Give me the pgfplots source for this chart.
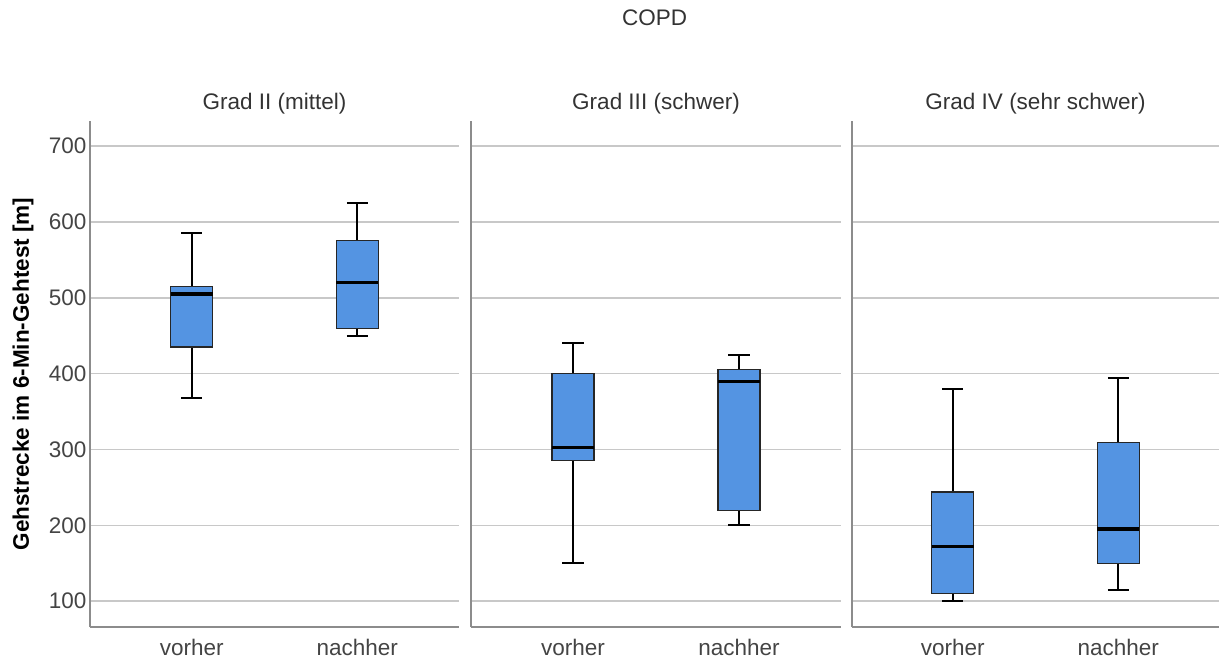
\documentclass[border=0pt]{standalone}
\usepackage{fontspec}
\setmainfont{Liberation Sans}
\usepackage{pgfplots}
\pgfplotsset{compat=1.18}

\definecolor{boxblue}{HTML}{5494E2}
\definecolor{gridgray}{HTML}{C8C8C8}
\definecolor{axisgray}{HTML}{8C8C8C}
\definecolor{ticktext}{HTML}{444444}
\definecolor{titletext}{HTML}{333333}

\newcommand{\chartfont}{\fontsize{22.5bp}{27bp}\selectfont}

% one box: #1 centre, #2/#3 box edges, #4/#5 cap ends,
% #6 lower whisker, #7 lower quartile, #8 median, #9 upper quartile, next arg upper whisker
\newcommand{\gbox}[9]{\def\gboxA{#1}\def\gboxB{#2}\def\gboxC{#3}\def\gboxD{#4}%
  \def\gboxE{#5}\def\gboxF{#6}\def\gboxG{#7}\def\gboxH{#8}\def\gboxI{#9}\gboxfinish}
\newcommand{\gboxfinish}[1]{%
  \addplot[draw=black, line width=1.8bp] coordinates {(\gboxA,\gboxF) (\gboxA,#1)};
  \addplot[draw=black, line width=1.8bp, unbounded coords=jump] coordinates
    {(\gboxD,\gboxF) (\gboxE,\gboxF) (nan,nan) (\gboxD,#1) (\gboxE,#1)};
  \addplot[draw=black!85, fill=boxblue, line width=1.2bp] coordinates
    {(\gboxB,\gboxG) (\gboxC,\gboxG) (\gboxC,\gboxI) (\gboxB,\gboxI)} -- cycle;
  \addplot[draw=black, line width=3.3bp] coordinates {(\gboxB,\gboxH) (\gboxC,\gboxH)};
}

\pgfplotsset{
  panel/.style={
    scale only axis,
    height=506bp,
    xmin=-0.614, xmax=1.614,
    ymin=66, ymax=733,
    axis lines*=left,
    axis line style={draw=axisgray, line width=1.1bp},
    xtick={0,1},
    xticklabels={vorher,nachher},
    ytick={100,200,...,700},
    ymajorgrids,
    grid style={draw=gridgray, line width=1.6bp},
    tick style={draw=none},
    /pgf/number format/assume math mode=true,
    tick label style={font=\chartfont, text=ticktext},
    xticklabel style={anchor=base, inner sep=0pt, yshift=-28bp},
    title style={at={(0.5,1)}, anchor=base, yshift=5.7bp,
                 font=\chartfont, text=titletext},
    mark=none,
  },
}

\begin{document}
\begin{tikzpicture}
\path[use as bounding box] (0,0) rectangle (1219bp,658bp);

% overall heading
\node[anchor=base, font=\chartfont, text=titletext] at (654.5bp,632bp) {COPD};

% Grad II
\begin{axis}[panel, width=369bp, at={(90bp,31bp)}, anchor=south west,
  title={Grad II (mittel)},
  ylabel={Gehstrecke im 6-Min-Gehtest [m]},
  ylabel style={at={(axis description cs:-0.1816,0.5)}, anchor=center,
                font=\chartfont\bfseries, text=black}]
\gbox{0}{-0.1265}{0.1265}{-0.0635}{0.0635}{368}{435}{505}{515}{585}
\gbox{1}{0.8735}{1.1265}{0.9365}{1.0635}{450}{460}{520}{575}{625}
\end{axis}

% Grad III
\begin{axis}[panel, width=370bp, at={(471bp,31bp)}, anchor=south west,
  title={Grad III (schwer)}, yticklabels={}]
\gbox{0}{-0.1265}{0.1265}{-0.0635}{0.0635}{150}{286}{303}{400}{440}
\gbox{1}{0.8735}{1.1265}{0.9365}{1.0635}{200}{220}{390}{405}{425}
\end{axis}

% Grad IV
\begin{axis}[panel, width=367bp, at={(852bp,31bp)}, anchor=south west,
  xmin=-0.608, xmax=1.608,
  title={Grad IV (sehr schwer)}, yticklabels={}]
\gbox{0}{-0.1265}{0.1265}{-0.0635}{0.0635}{100}{110}{172}{244}{380}
\gbox{1}{0.8735}{1.1265}{0.9365}{1.0635}{115}{150}{195}{309}{394}
\end{axis}
\end{tikzpicture}
\end{document}
